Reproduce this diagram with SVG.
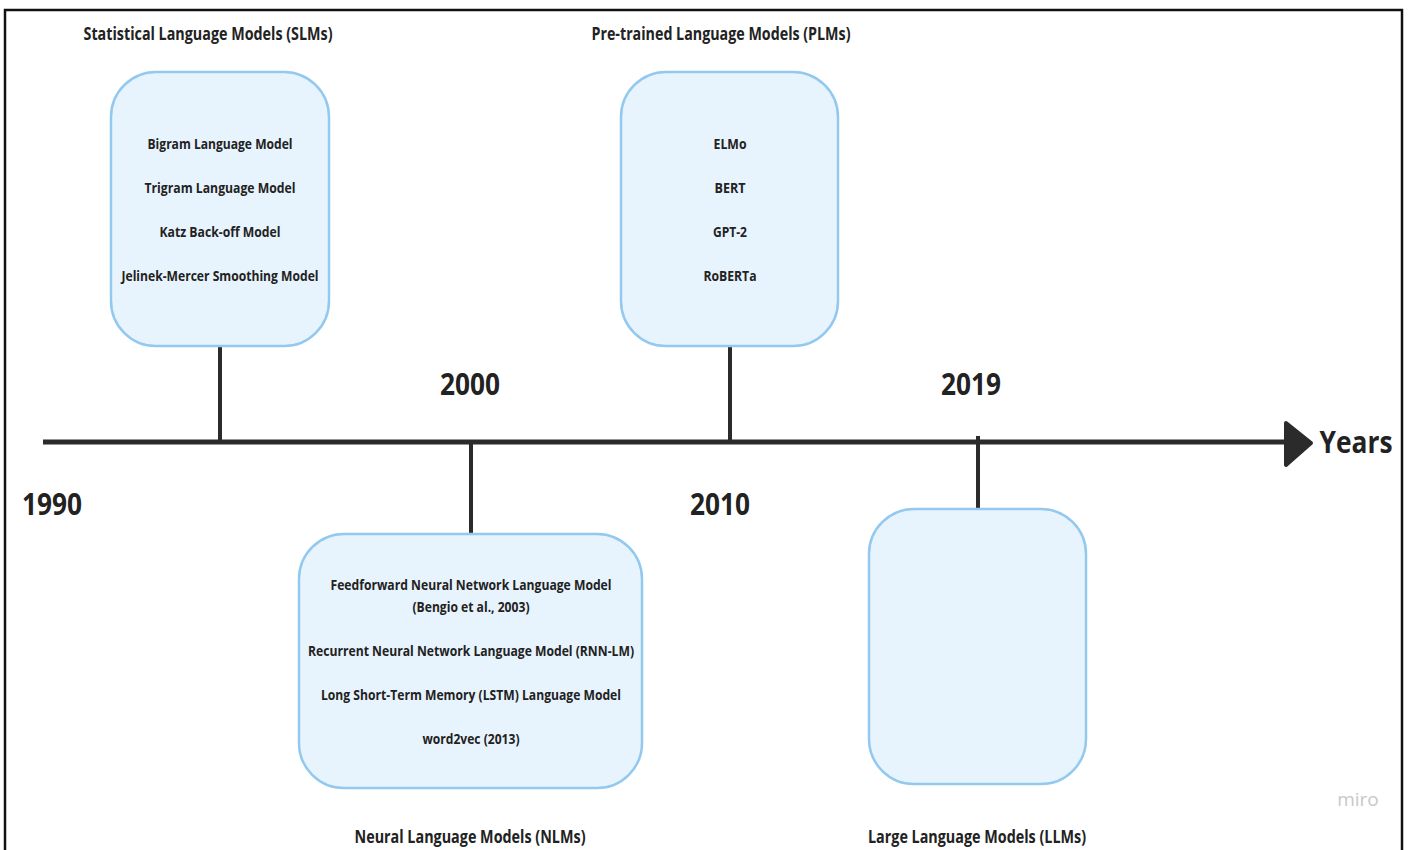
<svg xmlns="http://www.w3.org/2000/svg" width="1409" height="850" viewBox="0 0 1409 850">
<style>
.box{fill:#e8f4fd;stroke:#93c9ef;stroke-width:2.5}
.t{font-family:"Open Sans","Liberation Sans",sans-serif;font-weight:bold;fill:#222;text-anchor:middle}
.item{font-size:15px}
.title{font-size:17px}
.year{font-size:31px}
.stem{stroke:#2b2b2b;stroke-width:4;fill:none}
</style>
<rect x="0" y="0" width="1409" height="850" fill="#fff"/>
<rect x="5" y="10" width="1397" height="850" fill="none" stroke="#111" stroke-width="2.5"/>
<g id="connectors">
<line x1="43" y1="442" x2="1290" y2="442" stroke="#2b2b2b" stroke-width="5"/>
<path d="M1286 423 L1311 443 L1286 465 Z" fill="#2b2b2b" stroke="#2b2b2b" stroke-width="4" stroke-linejoin="round"/>
<line class="stem" x1="220" y1="346" x2="220" y2="442"/>
<line class="stem" x1="730" y1="346" x2="730" y2="442"/>
<line class="stem" x1="471" y1="442" x2="471" y2="534"/>
<line class="stem" x1="978" y1="436" x2="978" y2="509"/>
</g>
<g id="axis-labels">
<text class="t year" x="1356" y="453" textLength="73" lengthAdjust="spacingAndGlyphs">Years</text>
<text class="t year" x="52" y="515" textLength="60" lengthAdjust="spacingAndGlyphs">1990</text>
<text class="t year" x="470" y="395" textLength="60" lengthAdjust="spacingAndGlyphs">2000</text>
<text class="t year" x="720" y="515" textLength="60" lengthAdjust="spacingAndGlyphs">2010</text>
<text class="t year" x="971" y="395" textLength="60" lengthAdjust="spacingAndGlyphs">2019</text>
</g>
<g id="slm">
<text class="t title" x="208" y="40" textLength="249" lengthAdjust="spacingAndGlyphs">Statistical Language Models (SLMs)</text>
<rect class="box" x="111" y="72" width="218" height="274" rx="45"/>
<text class="t item" x="220" y="149" textLength="145" lengthAdjust="spacingAndGlyphs">Bigram Language Model</text>
<text class="t item" x="220" y="193" textLength="151" lengthAdjust="spacingAndGlyphs">Trigram Language Model</text>
<text class="t item" x="220" y="237" textLength="121" lengthAdjust="spacingAndGlyphs">Katz Back-off Model</text>
<text class="t item" x="220" y="281" textLength="197" lengthAdjust="spacingAndGlyphs">Jelinek-Mercer Smoothing Model</text>
</g>
<g id="plm">
<text class="t title" x="721" y="40" textLength="259" lengthAdjust="spacingAndGlyphs">Pre-trained Language Models (PLMs)</text>
<rect class="box" x="621" y="72" width="217" height="274" rx="45"/>
<text class="t item" x="730" y="149" textLength="33" lengthAdjust="spacingAndGlyphs">ELMo</text>
<text class="t item" x="730" y="193" textLength="31" lengthAdjust="spacingAndGlyphs">BERT</text>
<text class="t item" x="730" y="237" textLength="34" lengthAdjust="spacingAndGlyphs">GPT-2</text>
<text class="t item" x="730" y="281" textLength="53" lengthAdjust="spacingAndGlyphs">RoBERTa</text>
</g>
<g id="nlm">
<rect class="box" x="299" y="534" width="343" height="254" rx="45"/>
<text class="t item" x="471" y="590" textLength="281" lengthAdjust="spacingAndGlyphs">Feedforward Neural Network Language Model</text>
<text class="t item" x="471" y="612" textLength="117" lengthAdjust="spacingAndGlyphs">(Bengio et al., 2003)</text>
<text class="t item" x="471" y="656" textLength="326" lengthAdjust="spacingAndGlyphs">Recurrent Neural Network Language Model (RNN-LM)</text>
<text class="t item" x="471" y="700" textLength="300" lengthAdjust="spacingAndGlyphs">Long Short-Term Memory (LSTM) Language Model</text>
<text class="t item" x="471" y="744" textLength="97" lengthAdjust="spacingAndGlyphs">word2vec (2013)</text>
<text class="t title" x="470" y="843" textLength="231" lengthAdjust="spacingAndGlyphs">Neural Language Models (NLMs)</text>
</g>
<g id="llm">
<rect class="box" x="869" y="509" width="217" height="275" rx="45"/>
<text class="t title" x="977" y="843" textLength="218" lengthAdjust="spacingAndGlyphs">Large Language Models (LLMs)</text>
</g>
<text x="1358" y="806" font-family="'Open Sans','Liberation Sans',sans-serif" font-size="19" fill="#c8c8c8" text-anchor="middle">miro</text>
</svg>
